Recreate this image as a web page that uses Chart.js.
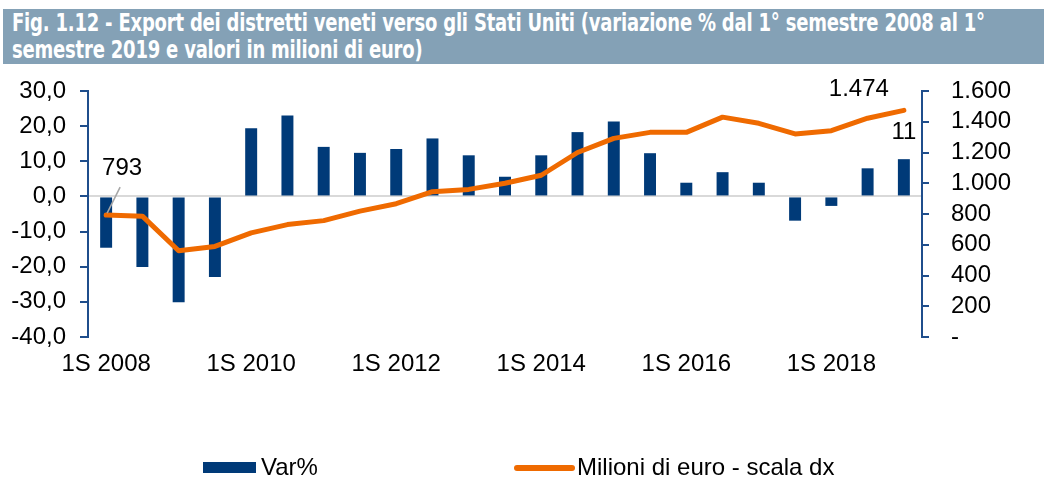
<!DOCTYPE html>
<html>
<head>
<meta charset="utf-8">
<script src="https://cdn.jsdelivr.net/npm/chart.js@4.4.1/dist/chart.umd.min.js"></script>
<style>
  html, body { margin: 0; padding: 0; background: #fff; }
  #wrap { position: relative; width: 1044px; height: 479px; overflow: hidden; }
  #title {
    position: absolute; left: 3px; top: 9px; width: 1041px; height: 55px;
    background: #84a1b6; overflow: hidden;
  }
  #title div {
    position: absolute; left: 9px; top: 1.5px; width: 1100px; color: #fff;
    font-family: "DejaVu Sans Condensed", "Liberation Sans Narrow", sans-serif;
    font-weight: bold; font-size: 20px; line-height: 21.7px; letter-spacing: -0.2px;
    transform: scaleY(1.2); transform-origin: 0 0;
  }
  #chart { position: absolute; left: 0; top: 0; }
</style>
</head>
<body>
<div id="wrap">
  <div id="title"><div>Fig. 1.12 - Export dei distretti veneti verso gli Stati Uniti (variazione % dal 1° semestre 2008 al 1°<br>semestre 2019 e valori in milioni di euro)</div></div>
  <canvas id="chart" width="1044" height="479"></canvas>
</div>
<script>
const semesters = [
  '1S 2008', '2S 2008', '1S 2009', '2S 2009', '1S 2010', '2S 2010', '1S 2011', '2S 2011',
  '1S 2012', '2S 2012', '1S 2013', '2S 2013', '1S 2014', '2S 2014', '1S 2015', '2S 2015',
  '1S 2016', '2S 2016', '1S 2017', '2S 2017', '1S 2018', '2S 2018', '1S 2019'
];
// variazione % tendenziale
const varPct = [-14.6, -20.1, -30.1, -22.9, 19.4, 23.0, 14.1, 12.4, 13.5, 16.5, 11.7, 5.6,
  11.7, 18.3, 21.3, 12.3, 3.9, 6.9, 3.9, -6.9, -2.7, 8.0, 10.6];
// milioni di euro (scala dx)
const milioni = [793, 786, 561, 589, 677, 731, 757, 819, 867, 945, 960, 1000,
  1052, 1200, 1292, 1331, 1331, 1430, 1390, 1321, 1342, 1423, 1474];

const BLUE = '#003a78';
const ORANGE = '#ef6a00';
const AXIS = '#1f4e8c';
const FONT = '"Liberation Sans", Arial, sans-serif';

function itNum(v) {
  return String(v).replace(/\B(?=(\d{3})+(?!\d))/g, '.');
}

// labels for first/last point of the line and last bar
const valueLabels = {
  id: 'valueLabels',
  afterDatasetsDraw(chart) {
    const ctx = chart.ctx;
    const bars = chart.getDatasetMeta(0).data;
    const pts = chart.getDatasetMeta(1).data;
    const p0 = pts[0];
    const pN = pts[pts.length - 1];
    const bN = bars[bars.length - 1];
    ctx.save();
    ctx.strokeStyle = '#a6a6a6';
    ctx.lineWidth = 1.5;
    ctx.beginPath();
    ctx.moveTo(p0.x + 1, p0.y - 2);
    ctx.lineTo(p0.x + 14, p0.y - 28);
    ctx.stroke();
    ctx.fillStyle = '#000';
    ctx.font = '24px ' + FONT;
    ctx.textAlign = 'center';
    ctx.textBaseline = 'middle';
    ctx.fillText(itNum(milioni[0]), p0.x + 16, p0.y - 47);
    ctx.fillText(itNum(milioni[milioni.length - 1]), pN.x - 45, pN.y - 21);
    ctx.fillText(String(Math.round(varPct[varPct.length - 1])), bN.x, bN.y - 27);
    ctx.restore();
  }
};

// legend drawn under the axis, with the wide spacing of the original
const wideLegend = {
  id: 'wideLegend',
  afterDraw(chart) {
    const ctx = chart.ctx;
    const ds = chart.data.datasets;
    ctx.save();
    ctx.font = '24px ' + FONT;
    ctx.textBaseline = 'middle';
    ctx.fillStyle = ds[0].backgroundColor;
    ctx.fillRect(203, 462, 53, 11);
    ctx.fillStyle = '#000';
    ctx.fillText(ds[0].label, 261, 468);
    ctx.strokeStyle = ds[1].borderColor;
    ctx.lineWidth = 6;
    ctx.lineCap = 'round';
    ctx.beginPath();
    ctx.moveTo(517, 468);
    ctx.lineTo(572, 468);
    ctx.stroke();
    ctx.fillText(ds[1].label, 577, 468);
    ctx.restore();
  }
};

new Chart(document.getElementById('chart'), {
  data: {
    labels: semesters,
    datasets: [
      {
        type: 'bar', label: 'Var%', data: varPct, yAxisID: 'y',
        backgroundColor: BLUE, barPercentage: 0.33, categoryPercentage: 1, order: 2
      },
      {
        type: 'line', label: 'Milioni di euro - scala dx', data: milioni, yAxisID: 'y1',
        borderColor: ORANGE, backgroundColor: ORANGE, borderWidth: 5, pointRadius: 0,
        tension: 0, borderCapStyle: 'round', borderJoinStyle: 'round', order: 1
      }
    ]
  },
  options: {
    responsive: false,
    animation: false,
    events: [],
    layout: { padding: { top: 91, bottom: 92, left: 0, right: 0 } },
    plugins: { legend: { display: false }, tooltip: { enabled: false } },
    scales: {
      x: {
        grid: { display: false, drawTicks: false },
        border: { display: false },
        ticks: {
          autoSkip: false, maxRotation: 0, padding: 13, color: '#000',
          font: { family: FONT, size: 24 },
          callback: (v, i) => (i % 4 === 0 ? semesters[i] : '')
        },
        afterFit: (s) => { s.height = 50; }
      },
      y: {
        position: 'left', min: -40, max: 30,
        ticks: {
          stepSize: 10, autoSkip: false, padding: 14, color: '#000', font: { family: FONT, size: 24 },
          callback: (v) => v.toFixed(1).replace('.', ',')
        },
        grid: {
          color: (c) => (c.tick && c.tick.value === 0 ? '#d9d9d9' : 'rgba(0,0,0,0)'),
          lineWidth: 2, tickColor: AXIS, tickLength: 8, tickWidth: 2
        },
        border: { color: AXIS, width: 2 },
        afterFit: (s) => { s.width = 88; }
      },
      y1: {
        position: 'right', min: 0, max: 1600,
        ticks: {
          stepSize: 200, autoSkip: false, padding: 22, color: '#000', font: { family: FONT, size: 24 },
          callback: (v) => (v === 0 ? '-' : itNum(v))
        },
        grid: { drawOnChartArea: false, color: AXIS, tickLength: 7, lineWidth: 2 },
        border: { color: AXIS, width: 2 },
        afterFit: (s) => { s.width = 122; }
      }
    }
  },
  plugins: [valueLabels, wideLegend]
});
</script>
</body>
</html>
